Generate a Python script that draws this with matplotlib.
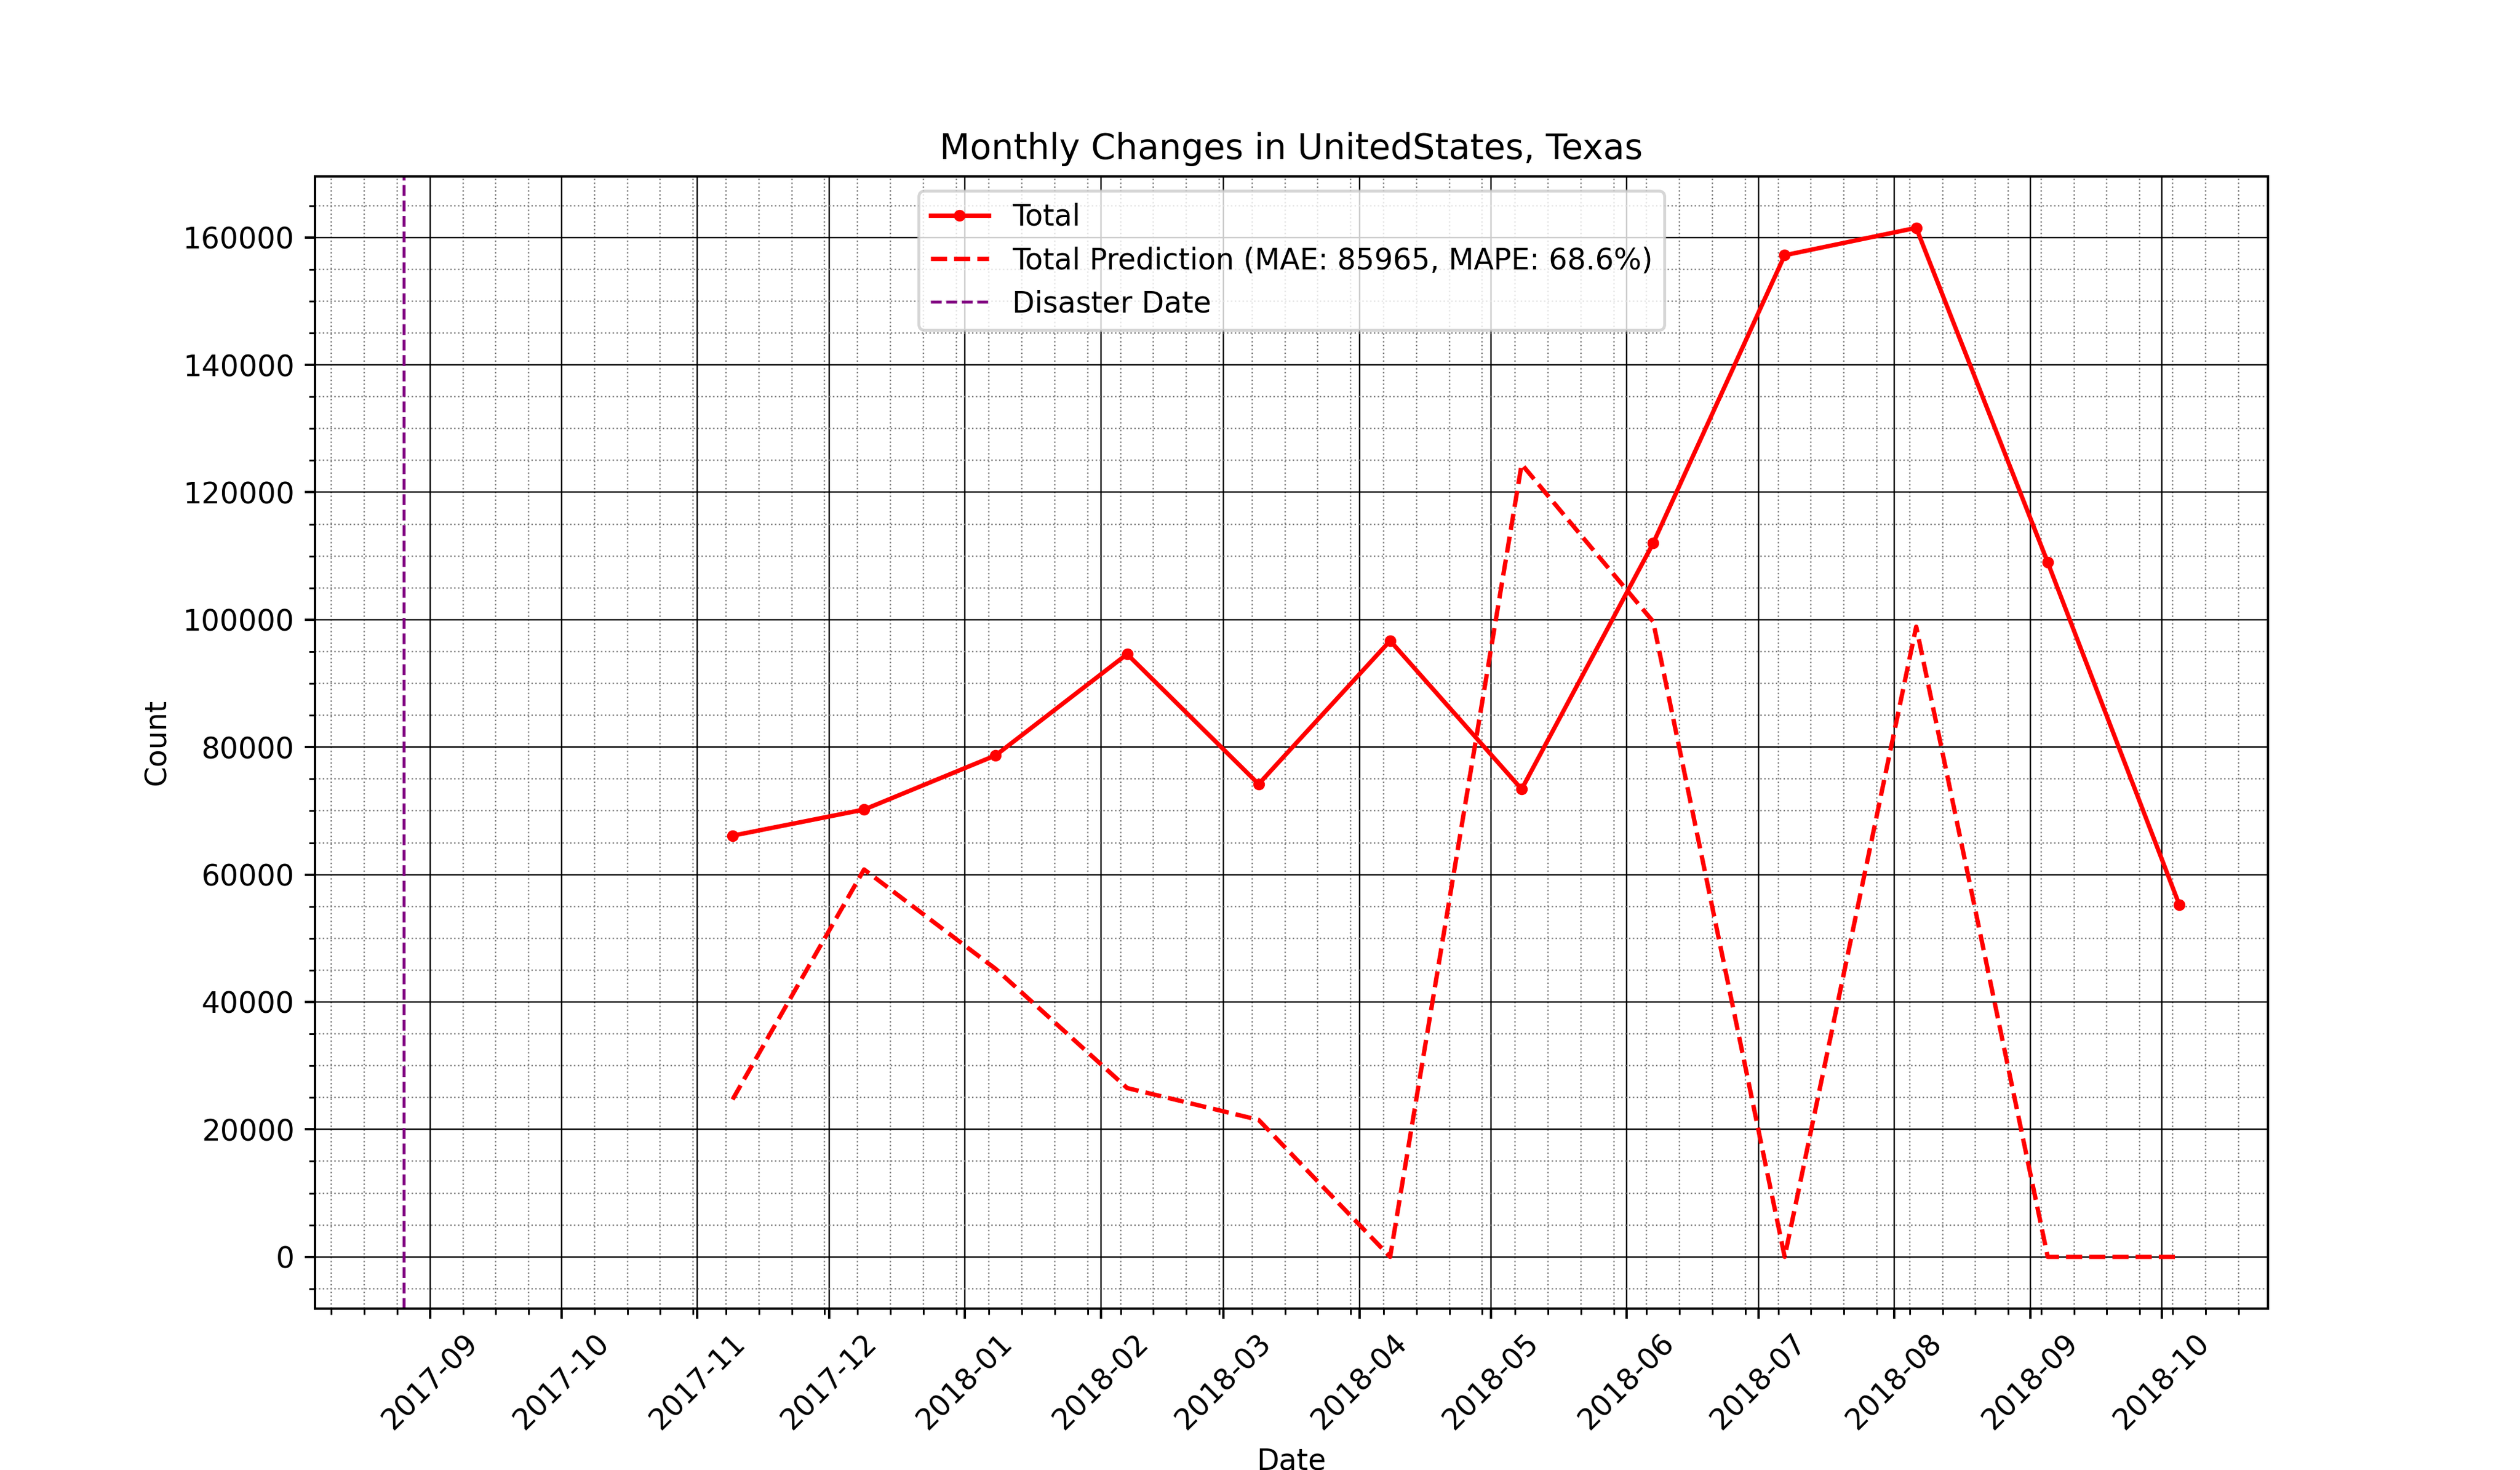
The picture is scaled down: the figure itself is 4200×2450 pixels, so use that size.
import numpy as np
import pandas as pd
import matplotlib
matplotlib.use("Agg")
import matplotlib.pyplot as plt
import matplotlib.dates as mdates
from matplotlib.ticker import AutoMinorLocator, MultipleLocator

# monthly snapshots, 30 days apart
dates = pd.date_range("2017-11-09", periods=12, freq="30D")
total = [66100, 70200, 78700, 94600, 74200, 96700,
         73400, 112000, 157200, 161500, 109000, 55300]
prediction = [24700, 60800, 45200, 26500, 21500, 0,
              124400, 99700, 0, 98900, 0, 0]
disaster_date = pd.Timestamp("2017-08-26")
mae = 85965
mape = 68.6

fig, ax = plt.subplots(figsize=(12, 7), dpi=350)

ax.plot(dates, total, color="red", marker="o", markersize=3, label="Total")
ax.plot(dates, prediction, color="red", linestyle="--",
        label=f"Total Prediction (MAE: {mae}, MAPE: {mape}%)")
ax.axvline(disaster_date, color="purple", linestyle="--", linewidth=1,
           label="Disaster Date")

ax.xaxis.set_major_locator(mdates.MonthLocator())
ax.xaxis.set_major_formatter(mdates.DateFormatter("%Y-%m"))
ax.xaxis.set_minor_locator(AutoMinorLocator())
ax.yaxis.set_major_locator(MultipleLocator(20000))
ax.yaxis.set_minor_locator(AutoMinorLocator())
plt.setp(ax.get_xticklabels(), rotation=45)

ax.grid(which="major", color="black", linestyle="-", linewidth=0.5)
ax.grid(which="minor", color="grey", linestyle=":", linewidth=0.5)

ax.set_title("Monthly Changes in UnitedStates, Texas")
ax.set_xlabel("Date")
ax.set_ylabel("Count")
ax.legend(loc="upper center")

fig.savefig("out.png")
